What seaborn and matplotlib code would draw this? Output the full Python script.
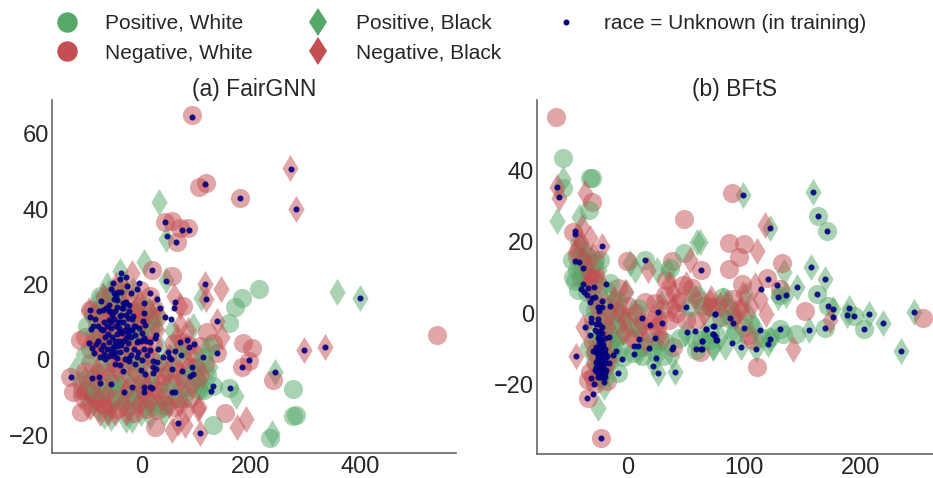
import numpy as np
import matplotlib
matplotlib.use('Agg')
import matplotlib.pyplot as plt
import seaborn as sns
from matplotlib.lines import Line2D

# (a) FairGNN, values
a_neg_white = [(-132,-4.4),(-126,-8.6),(-111,-13.8),(24,-17.9),(152,-14),(186,4.6),(202,3.2),(184,-1.8),(197,-0.2),(240,-5.3),
    (137,1.8),(119,7.5),(131,4.4),(76,14.4),(55,22.4),(19,23.8),(64,31.3),(70,35),(84,35),(55,37),(42,36.7),(-104,6.2),(-114,5.3),
    (-95,13.3),(-83,8.9),(-59,16.9),(-40,19.5),(-4,18.6),(15,16.9),(27,11.5),(15,8),(-16,8.9),(-46,11.5),(-65,6.2),(-83,3.6),
    (-59,0.9),(-28,3.6),(3,4.4),(-95,-0.9),(-77,-3.5),(-52,-0.9),(-65,-7.1),(-34,-5.3),(-10,-3.5),(15,-6.2),(39,-4.4),(58,-1.8),
    (76,0),(94,1.8),(107,3.6),(45,-9.8),(70,-8),(21,-10.6),(-4,-11.5),(-28,-10.6),(-59,-11.5),(-83,-10.6),(-101,-8),(27,-13.3),
    (58,-12.4),(82,-7.1),(100,-4.4),(58,4.4),(76,4.8),(92,65),(117,47),(105,46),(180,43),(541,6.6),
    (-75,14),(-70,10),(-62,13),(-50,16),(-42,15),(-35,12),(-25,15),(-15,13),(-5,11),(5,12),(-88,6),(-78,5),(-70,3),(-50,7),(-38,8),
    (-22,6),(-8,6),(8,7),(20,4),(-40,1),(-18,0),(5,1),(-95,3),(-105,-3),(-90,-5),(-68,-3),(-42,-7),(-20,-7),(0,-6),(30,-8),(52,-6),
    (65,-3),(88,-2),(115,-1),(-70,-12),(-45,-13),(-15,-14),(10,-13),(40,-12),(-110,-8),(-90,-9),(-75,-9),(-50,-10),(-12,-10),(5,-10),
    (35,-6),(65,-10),(88,-10),(100,-2),(85,4)]
a_neg_black = [(116,20.2),(145,18.8),(118,16.2),(138,10.3),(67,-16.7),(56,-18.6),(79,-17.3),(107,-19.3),(175,-17.7),(190,-15.8),
    (102,-12.9),(105,-12.4),(-77,-14.2),(-95,-12.4),(-62,-14.2),(-98,13.3),(-19,23),(58,16.9),(70,9.3),(146,6.2),(70,14.2),(-4,15.1),
    (-34,8),(-71,8),(-59,12.4),(27,8),(45,-3.5),(-34,-11.5),(-114,-9.7),(-4,-7.1),(9,-7.1),(82,-13.3),(-83,-2.7),(-46,-2.7),
    (272,51),(283,40),(297,2.6),(336,3.5),
    (-85,12),(-72,17),(-60,10),(-48,20),(-30,18),(-20,12),(-10,14),(0,10),(12,13),(25,14),(-90,5),(-70,5),(-45,5),(-25,3),(-5,3),(15,1),
    (-85,-6),(-60,-4),(-35,-2),(-15,-3),(10,-3),(30,-2),(50,1),(72,-5),(92,-7),(110,-4),(-100,-12),(-80,-11),(-65,-9),(-50,-14),(-28,-8),
    (-8,-12),(15,-11),(35,-10),(50,-12),(70,-12),(85,8),(65,6),(-105,-5),(-30,-14)]
a_pos_white = [(214,18.8),(183,16.4),(171,14),(160,9.8),(234,-20.6),(131,-17.4),(160,-7.4),(131,-6.9),(113,-8),(113,0.9),(-101,8.9),
    (-104,1.3),(-77,16.9),(-49,-5.3),(27,-0.9),(-22,-10.6),(39,-12.4),(-4,-0.9),(94,-3.5),(125,3.6),(277,-7.7),(283,-14.6),(277,-14.9),
    (-90,12),(-80,7),(-65,15),(-45,18),(-25,10),(-10,7),(5,14),(-55,5),(-35,3),(-75,-1),(-55,-6),(-20,-3),(10,-5),(45,-2),(65,2),(85,-5),
    (105,-8),(120,-4),(-100,-5),(-85,-8),(-70,-8),(-40,-11),(-15,-8),(15,-12),(50,-8),(-30,13),(20,9),(75,-10)]
a_pos_black = [(-123,-2.6),(-107,-9),(-56,-15.5),(-18,-16),(-1,-14.2),(3,26),(-40,23.5),(-65,20),(-71,16.9),(45,21.3),(108,16.4),
    (93,8.9),(44,32),(172,-9.7),(107,-7.5),(125,-1.8),(238,-19.5),(244,-3.1),(-89,-11.5),(21,11.5),(-16,18.6),(107,-5.3),(400,16.5),
    (358,18),(31,42),
    (-85,15),(-60,18),(-50,10),(-35,20),(-10,12),(10,10),(30,12),(-75,3),(-50,0),(-25,-1),(0,-1),(35,3),(60,-5),(80,2),(100,-1),(-115,-6),
    (-95,-9),(-80,-13),(-60,-13),(-40,-9),(-25,-13),(-5,-9),(20,-8),(40,-14),(-30,-16),(-70,-15),(55,8),(15,-15)]
a_unknown = [(-38,23.2),(-40,21.6),(-29,22),(-53,20.4),(-6,20.5),(-27,19.6),(-56,18.8),(-10,18.9),(-38,18.1),(-21,17.9),(-52,17.7),
    (14,17.7),(-75,15.7),(-52,16.2),(-45,15.8),(27,16.2),(60,15.5),(-29,15.5),(-34,15.1),(3,15.2),(-23,14.5),(-60,14.6),(-66,13.8),
    (-72,13.3),(-78,12.9),(-96,13.2),(-46,14),(-37,13.8),(-34,13.8),(33,13.9),(58,13.8),(-49,12.9),(3,12.5),(-41,11.7),(-95,11.4),
    (-86,11),(-25,11.1),(-16,11.7),(-18,10.9),(2,10.3),(43,11.4),(53,10.8),(-60,10.7),(-57,10),(-15,9.1),(-5,8.6),(6,9.4),(-89,9.1),
    (-93,8.3),(-81,8.9),(-75,8.2),(-71,8),(-57,8.4),(-43,8.6),(-41,7.8),(-31,8),(-22,8),(-62,6.8),(-45,6.8),(-36,7.1),(-13,6.6),
    (-20,6.2),(0,7.1),(3,5.8),(-30,5.8),(26,6.6),(24,5.8),(8,5.1),(15,4.8),(-25,4.4),(-10,4.7),(-60,4.8),(-98,4.4),(-85,4.2),(-91,3.1),
    (-38,4),(-45,3.6),(-51,3.6),(-55,3.1),(-57,2.2),(-49,2.2),(-88,1.8),(-77,0.7),(-69,1.5),(-68,0.2),(-7,2.1),(4,3),(14,2.7),(10,1.3),
    (-10,0.9),(-21,1.3),(-23,0.5),(-24,-0.2),(-32,0.2),(48,2),(38,0.9),(50,0.9),(53,0.3),(61,2.4),(70,4.7),(83,5.3),(86,3.4),(96,4.3),
    (72,1.2),(112,0.7),(138,1.8),(20,-0.4),(28,-0.6),(-49,-1.2),(-40,-1.3),(20,-2),(26,-2.5),(-34,-3),(-1,-2.6),(55,-2.4),(6,-3.7),
    (20,-3.5),(74,-3),(91,-2),(94,-3.8),(88,-4.3),(-131,-4.4),(-92,-4.7),(-79,-4.5),(-77,-6),(-57,-6.3),(-19,-7.1),(4,-7.3),(15,-7.1),
    (18,-7.4),(4,-8.5),(-33,-8.6),(55,-8.6),(61,-8.5),(130,-6.9),(126,-8.3),(161,-7.4),(67,-16.7),(107,-19.3),(116,20.2),(118,16.2),
    (138,10.3),(184,-1.8),(196,-0.1),(244,-3.1),(19,23.8),(44,20.9),(46,33),(63,31.3),(73,34.6),(86,34.6),(42,36.7),(92,64.6),(116,46.8),
    (180,43),(273,50.8),(283,40),(400,16.5),(297,2.6),(336,3.5),
    (-60,13),(-55,12),(-52,11),(-48,9),(-40,10),(-35,10),(-30,12),(-28,9),(-25,7),(-18,8),(-12,9),(-8,5),(-2,5),(-65,9),(-68,6),(-72,4),
    (-75,3),(-80,5),(-70,10),(-55,6),(-50,5),(-42,5),(-35,5),(-30,3),(-40,2),(-45,0.5),(-52,1),(-60,1),(-65,3),(-15,3),(-12,-1),(0,0),(30,3),
    (-58,13),(-44,10),(-38,12),(-32,15),(-44,18),(-48,17),(-24,13)]

# (b) BFtS
b_neg_white = [(-62,55),(-30.4,31.2),(-47,22.8),(48.3,26.3),(-0.6,14.7),(38,14.6),(62.6,12.2),(-44,15.8),(-33,11),(-30,9.3),(-8.3,7),
    (33,9.3),(47.4,7.9),(23,2.7),(31.7,5),(41.7,-0.1),(61.7,3.7),(71.7,1.8),(58.9,-1.9),(50.3,-1.9),(61.7,-10.9),(38.8,-9.4),(27.4,-7.5),
    (18.8,-5.7),(18.8,-1.9),(7.4,0),(-15.5,1.8),(-7,-0.1),(-32.7,-16.4),(-34,-18.7),(-34.4,-23.9),(-23,-35),(-18.4,-12.2),(-21,-5.7),
    (-27,-14),(-30,-2),(-24,-17.8),(89.5,33.5),(87,19.5),(99.6,19.3),(95.5,15.8),(87,12.4),(132.4,14.1),(97.6,8),(119.6,9.8),(130.4,6.6),
    (152.5,0.7),(111.3,-15.2),(253.4,-1.5),(103.3,-6.2),(90.4,3.8),(71.8,1.7),(89,-1),(96,1.2),(107.5,-7.6),
    (-42,18),(-38,14),(-35,16),(-40,10),(-30,14),(-28,11),(-36,8),(-26,5),(-22,2),(-30,-8),(-26,-12),(-20,-15),(-30,-18),(-15,-8),(-10,-3),
    (0,2),(10,-4),(25,-4),(30,1),(45,3),(35,-2),(55,7),(15,3),(80,-1),(-18,-19),(-28,-20),(5,-7),(100,-4)]
b_neg_black = [(-60.4,35.2),(-59,32.2),(-36.7,33.5),(-39,24.2),(-32.7,20.9),(-22,18.7),(-44.7,-12),(-38.4,-3.8),(17.4,12),(53,14.9),
    (-1.2,6),(38.8,5.5),(71.7,4.1),(-15.5,-0.1),(-2.6,-2),(57.4,4.1),(6,-0.1),(21.7,-1),(38.8,1.8),(-27,1.8),(-32.7,9.3),(-15.5,-13.2),
    (-4.3,-5.2),(-38.4,14.9),(111,17.5),(118.1,24.6),(70.4,3.1),(99,5.4),(109,7.8),(113.3,4),(119,-0.2),(173.9,-2),(141.9,-10.2),(96.1,0.8),(79,2.2),
    (-45,17),(-40,20),(-35,12),(-30,16),(-33,6),(-25,9),(-24,-2),(-20,-8),(-17,-4),(-30,-11),(-22,-16),(-12,4),(-8,1),(3,-7),(12,-3),(28,-2),
    (35,8),(44,4),(50,8),(15,-8),(28,-6),(65,0),(85,3),(92,-1),(106,2)]
b_pos_white = [(-55.8,43.4),(-55.6,35),(-32.7,37.9),(-30.7,37.9),(-33.2,28.9),(14.5,15),(48.3,16.9),(36,12.5),(-24,14.9),(-47,10.2),
    (-42.6,6.5),(-34,1.8),(-15.5,8.3),(-9.8,3.7),(8.8,1.3),(58.9,5),(53,1.8),(4.5,-11.3),(-4,-12.2),(-8.3,-16.9),(-30,-3.8),(-18.4,-7.6),
    (-15.5,-13.2),(-24,-14),(24.5,-11.3),(58.9,-10.4),(70.3,-7.5),(13,-9.4),(-4,-2),(-18,-1),(-24,7.4),(-40,13),(163,27.3),(171,22.9),
    (162.8,5.3),(130.4,-4.4),(144.7,-6),(169.3,-4.1),(193.9,-0.8),(202.5,-4.6),(84.7,1.7),(133.3,-5.8),(87.5,-1.6),(70.4,-5.8),(63.2,-7.6),
    (121.9,-6.7),(130.4,5),(81.8,4.5),(172,2),
    (-48,15),(-44,12),(-38,17),(-28,15),(-45,9),(-35,6),(-28,1),(-24,-8),(-18,-3),(-14,-10),(-28,-11),(-20,-18),(-10,-7),(-5,-6),(5,-4),
    (12,-12),(20,-8),(32,-8),(30,-12),(45,-7),(75,-2),(92,-6),(105,-3),(115,-7),(-12,3),(65,2)]
b_pos_black = [(-55.6,37.7),(-61,25.8),(-42,27),(59.4,20),(6,12),(25,12),(34.5,12),(1.7,14),(-41,19.5),(-25.5,-26.7),(-20.4,-20.6),
    (25.7,-16.8),(40.6,-16.6),(-35.5,-9.4),(21.7,-14.1),(48.8,-5.7),(73,-9.9),(-4,-2),(28.8,2.7),(-15.5,5.5),(-2.6,6),(-38.4,15.8),(7.4,-3.8),
    (-15.5,-5.7),(99,33.2),(159,33.8),(122.4,23.8),(157.3,12.9),(169.6,9.4),(145.6,7.3),(134.4,11.5),(136.2,5.1),(176.2,1),(190,1.4),
    (187.9,-0.6),(207,-0.3),(218.8,-2.7),(245.7,0.2),(234.8,-10.5),(155.3,-4.7),(61.8,20),(81.8,3.6),(101.8,5),(109,-3.9),(120.4,-8.7),
    (109.8,-10),(97,-9.4),(83.3,-9.5),(73.2,-9.5),(122.4,-7.2),(129.3,4.5),(103.3,-0.2),(79,-6.7),
    (-44,20),(-36,14),(-30,10),(-27,4),(-22,-4),(-28,-8),(-15,-12),(-20,-15),(-10,0),(-5,-10),(10,-11),(25,-9),(38,-12),(55,-7),(65,-6),
    (90,-5),(-30,-14),(-25,-18),(-12,-7),(-25,12),(92,0)]
b_unknown = [(-60.4,35.2),(-59,32.5),(-45.8,23),(-45.2,22.2),(-22,18.7),(-45,14.5),(-41.8,14.2),(-38.7,12.7),(14.5,15),(62.6,12.2),(-38.4,8),
    (-34,7),(-28.7,7.4),(-19,8),(-40,6.7),(-37.8,6),(-35.5,5),(-28.4,4.4),(-31,4.1),(-32.7,3),(-22,3.3),(-15.5,2),(-26,1.6),(-21.8,1.8),(-25,0.7),
    (49.7,1.8),(26.3,0.2),(74.6,-0.4),(-31.5,-1.3),(-26,-1.6),(-31.8,-2.4),(12.2,-1.3),(29,-2.9),(19.4,-3.3),(73.4,-3.5),(-36.4,-3.8),(-28,-4.7),
    (67,-4.4),(50.6,-5.3),(58,-5.1),(73,-5.9),(76,-7.6),(-32.4,-6.2),(-21.8,-5.7),(-16.4,-6.8),(-24.6,-6.8),(23.4,-7),(10,-7.4),(63.7,-7.7),(-24.6,-8),
    (-24,-9.4),(-21,-9),(-27,-9.4),(5,-9.2),(8.5,-9.1),(18.2,-9.8),(38.8,-9.4),(38,-10),(58.9,-10.2),(63.2,-10),(-29.8,-10.5),(-24.6,-10.8),(-10.3,-10.7),
    (5.4,-11.4),(-12.6,-11.8),(-25.2,-12.2),(-21.8,-12.2),(-4.6,-12.8),(24,-12.6),(-44.7,-12),(-27.5,-13.6),(-23.5,-13.6),(-19.8,-14.1),(-16,-13.9),
    (-28.4,-16),(-24,-15),(-18.4,-16.1),(-21.8,-16.4),(22,-14.8),(-8.3,-16.7),(25.7,-16.8),(40.6,-16.6),(-31.8,-18.1),(-19.8,-17.8),(-24,-17.4),
    (-20.4,-19.2),(-29.2,-19.8),(-29.8,-22.6),(-34.7,-23.9),(-23,-35),(-25.5,-5.7),(-23.5,-7.4),(-22.6,-10.5),(-26.4,-11.3),(-19.8,-11.3),(-24.7,-14.1),
    (-26.4,-16.4),(-19.8,-16.9),(99,33.2),(159,33.8),(163,27.3),(171,22.9),(122.4,23.8),(157.3,12.9),(169.6,9.4),(120,9.5),(128.4,7.8),(114.4,6.6),
    (145.6,7.3),(162.8,5.3),(129.3,4.5),(136.2,5.1),(172,2),(176.2,1),(190,1.4),(187.9,-0.6),(193.9,-0.8),(207,-0.3),(245.7,0.2),(175.9,-1),(218.8,-2.7),
    (75,-0.4),(88,-1.5),(90.4,-2.8),(73.8,-3.6),(67.2,-4.5),(99.8,-4.2),(113.6,-4.7),(130.4,-4.4),(155.3,-4.7),(169.3,-4.1),(202.5,-4.6),(73.2,-6),
    (75,-6.4),(63.8,-7.7),(76.7,-7.6),(122.4,-7.2),(89.8,-8.5),(120.4,-8.7),(97,-9.4),(109.8,-10),(63.8,-10.2),(234.8,-10.5),
    (-27,-3),(-25,-3),(-24,-5),(-22,-4),(-26,-7),(-23,-9),(-25,-10),(-20,-7),(-22,-8),(-27,-11),(-24,-12),(-20,-10),(-23,-12),(-26,-13),(-22,-14),
    (-25,-15),(-21,-15),(-23,-16),(-27,-15),(-20,-13),(-24,-18),(-22,-18),(-26,-18),(-18,-12)]

GREEN = '#55a868'
RED = '#c44e52'
NAVY = '#000080'

sns.set_theme(style='white', font_scale=1.0)
plt.rcParams['font.family'] = ['Liberation Sans', 'DejaVu Sans']
plt.rcParams['text.color'] = '#262626'

fig = plt.figure(figsize=(9.33, 4.78), dpi=100)
W, H = 933, 478
ax_a = fig.add_axes([52/W, 1-453/H, 404/W, 353/H])
ax_b = fig.add_axes([537/W, 1-454/H, 396/W, 354/H])


def draw(ax, neg_w, neg_b, pos_w, pos_b, unknown):
    # red and green take turns so that neither one buries the other
    for pts, col, mk in [(pos_b, GREEN, 'd'), (neg_w, RED, 'o'), (pos_w, GREEN, 'o'), (neg_b, RED, 'd')]:
        arr = np.array(pts)
        sns.scatterplot(x=arr[:, 0], y=arr[:, 1], ax=ax, color=col, marker=mk, s=190, alpha=0.5, linewidth=0)
    arr = np.array(unknown)
    sns.scatterplot(x=arr[:, 0], y=arr[:, 1], ax=ax, color=NAVY, marker='o', s=19, alpha=0.9, linewidth=0)
    sns.despine(ax=ax)
    for s in ['left', 'bottom']:
        ax.spines[s].set_color('#666666')
        ax.spines[s].set_linewidth(1.2)
    ax.tick_params(labelsize=17, length=0, pad=2, colors='#262626')


draw(ax_a, a_neg_white, a_neg_black, a_pos_white, a_pos_black, a_unknown)
ax_a.set_xlim(-165, 576)
ax_a.set_ylim(-24.7, 69)
ax_a.set_xticks([0, 200, 400])
ax_a.set_yticks([-20, 0, 20, 40, 60])
ax_a.set_title('(a) FairGNN', fontsize=16.5, pad=3)

draw(ax_b, b_neg_white, b_neg_black, b_pos_white, b_pos_black, b_unknown)
ax_b.set_xlim(-78, 262)
ax_b.set_ylim(-39.5, 59.7)
ax_b.set_xticks([0, 100, 200])
ax_b.set_yticks([-20, 0, 20, 40])
ax_b.set_title('(b) BFtS', fontsize=16.5, pad=3)

handles = [
    Line2D([], [], ls='', marker='o', ms=14.7, mfc=GREEN, mew=0, label='Positive, White'),
    Line2D([], [], ls='', marker='o', ms=14.7, mfc=RED, mew=0, label='Negative, White'),
    Line2D([], [], ls='', marker='d', ms=14.7, mfc=GREEN, mew=0, label='Positive, Black'),
    Line2D([], [], ls='', marker='d', ms=14.7, mfc=RED, mew=0, label='Negative, Black'),
    Line2D([], [], ls='', marker='o', ms=4.3, mfc=NAVY, mew=0, label='race = Unknown (in training)'),
]
fig.legend(handles=handles, ncol=3, frameon=False, fontsize=15, loc='upper left', bbox_to_anchor=(0.029, 1.01),
           labelspacing=0.51, columnspacing=2.1, handletextpad=0.85)

fig.savefig('out.png', dpi=100)
